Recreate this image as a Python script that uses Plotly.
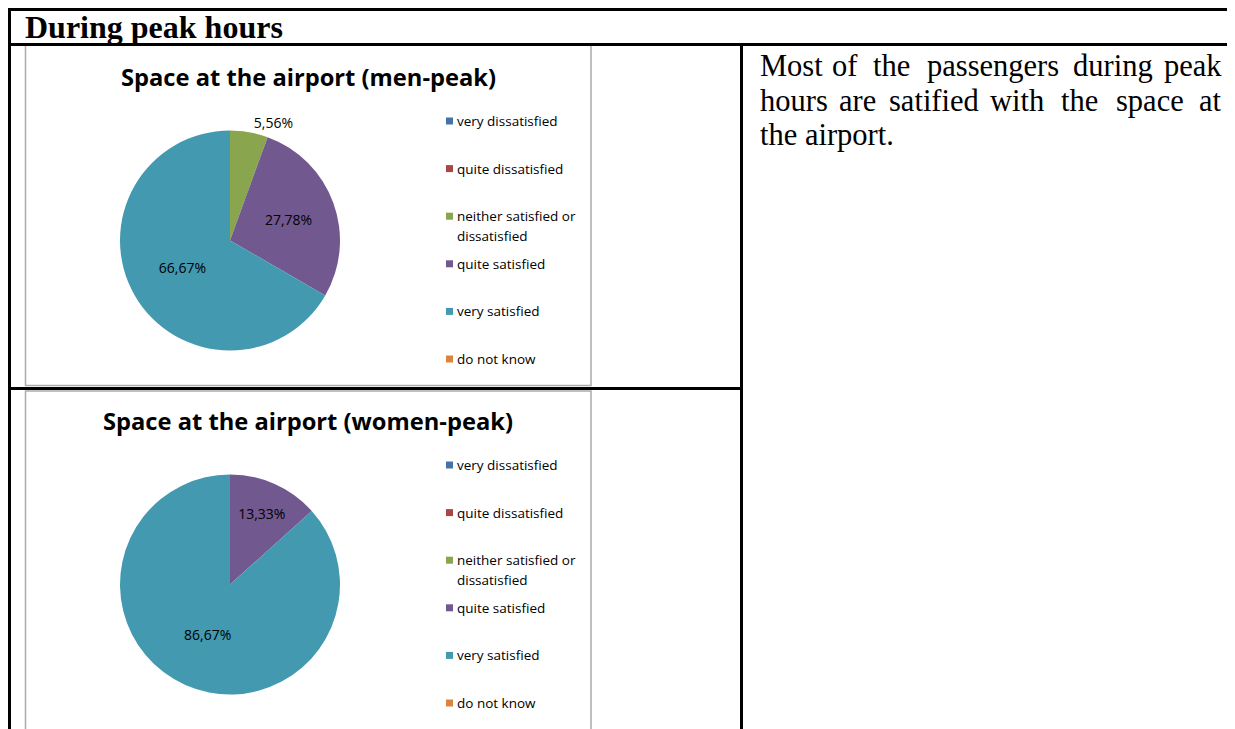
import plotly.graph_objects as go

W, H = 1235, 729

# data (percent of respondents)
categories = ["very dissatisfied", "quite dissatisfied", "neither satisfied or dissatisfied",
              "quite satisfied", "very satisfied", "do not know"]
legend_lines = [["very dissatisfied"], ["quite dissatisfied"], ["neither satisfied or", "dissatisfied"],
                ["quite satisfied"], ["very satisfied"], ["do not know"]]
men_peak = [0, 0, 5.56, 27.78, 66.67, 0]
women_peak = [0, 0, 0, 13.33, 86.67, 0]
colors = ["#4572A7", "#AA4643", "#89A54E", "#71588F", "#4399B0", "#DB843D"]

titles = ["Space at the airport (men-peak)", "Space at the airport (women-peak)"]
header = "During peak hours"
para_lines = [
    "Most of the passengers during peak",
    "hours are satified with the space at",
    "the airport.",
]

# the page body adds an 8px margin, so shift everything back by that much
PAD = 8


def px(x):
    return (x - PAD) / W


def py(y):
    return 1 - (y - PAD) / H


SANS = "Open Sans"
SERIF = "Liberation Serif"

fig = go.Figure()

# one chart per table row, offset in pixels
row_offset = [0, 344]
for vals, off in zip([men_peak, women_peak], row_offset):
    texts = ["%{value:.2f}%" if v > 0 else "" for v in vals]
    pos = ["outside" if 0 < v < 10 else "inside" for v in vals]
    fig.add_trace(go.Pie(
        labels=categories, values=vals, sort=False, direction="clockwise",
        marker=dict(colors=colors, line=dict(width=0)),
        texttemplate=texts, textposition=pos, insidetextorientation="horizontal",
        textfont=dict(family=SANS, size=14, color="#000000"),
        domain=dict(x=[px(120), px(340)], y=[py(351 + off), py(130 + off)]),
        showlegend=False, hoverinfo="label+percent",
    ))

shapes = []
annotations = []

# chart boxes, titles and hand-laid legends
for k, off in enumerate(row_offset):
    top = 45 if k == 0 else 391
    bottom = 385.5 if k == 0 else 760
    shapes.append(dict(type="rect", xref="paper", yref="paper",
                       x0=px(25.5), x1=px(591), y0=py(bottom), y1=py(top),
                       line=dict(color="#ABABAB", width=1.5), fillcolor="rgba(0,0,0,0)"))

    annotations.append(dict(text="<b>%s</b>" % titles[k], x=px(308), y=py(77 + off),
                            xref="paper", yref="paper", showarrow=False, xanchor="center", yanchor="middle",
                            font=dict(family=SANS, size=23.7, color="#000000")))

    for i, (lines, c) in enumerate(zip(legend_lines, colors)):
        yc = 121 + off + i * 47.6
        shapes.append(dict(type="rect", xref="paper", yref="paper",
                           x0=px(446), x1=px(453), y0=py(yc + 3.5), y1=py(yc - 3.5),
                           line=dict(width=0), fillcolor=c))
        for j, ln in enumerate(lines):
            annotations.append(dict(text=ln, x=px(455), y=py(yc + j * 19.5), xref="paper", yref="paper",
                                    showarrow=False, xanchor="left", yanchor="middle",
                                    font=dict(family=SANS, size=13.5, color="#000000")))

# table borders
black = dict(color="#000000", width=3)
for x0, y0, x1, y1 in [(8, 9.5, 1250, 9.5), (8, 44.5, 1250, 44.5), (9.5, 8, 9.5, 760),
                       (741.5, 44, 741.5, 760), (8, 388.5, 741.5, 388.5)]:
    shapes.append(dict(type="line", xref="paper", yref="paper",
                       x0=px(x0), x1=px(x1), y0=py(y0), y1=py(y1), line=black))

annotations.append(dict(text="<b>%s</b>" % header, x=px(23), y=py(27), xref="paper", yref="paper",
                        showarrow=False, xanchor="left", yanchor="middle",
                        font=dict(family=SERIF, size=32, color="#000000")))

# justified paragraph: word centres for the first two lines (first/last pinned to the edges)
word_x = [
    [760, 845, 891.5, 992.5, 1112.5, 1222],
    [760, 857.5, 933.5, 1017.5, 1079, 1150, 1222],
]
line_y = [66, 101, 135]
serif_font = dict(family=SERIF, size=30.5, color="#000000")
for k, ln in enumerate(para_lines):
    if k < len(word_x):
        words = ln.split(" ")
        for n, (w, x) in enumerate(zip(words, word_x[k])):
            anchor = "left" if n == 0 else ("right" if n == len(words) - 1 else "center")
            annotations.append(dict(text=w, x=px(x), y=py(line_y[k]), xref="paper", yref="paper",
                                    showarrow=False, xanchor=anchor, yanchor="middle",
                                    xshift=-2 if n == 0 else (2 if anchor == "right" else 0),
                                    font=serif_font))
    else:
        annotations.append(dict(text=ln, x=px(760), y=py(line_y[k]), xref="paper", yref="paper",
                                showarrow=False, xanchor="left", yanchor="middle", xshift=-2,
                                font=serif_font))

fig.update_layout(
    width=W, height=H, margin=dict(l=0, r=0, t=0, b=0),
    paper_bgcolor="white", plot_bgcolor="white",
    separators=",.",
    shapes=shapes, annotations=annotations,
)

fig.write_html("out.html")
